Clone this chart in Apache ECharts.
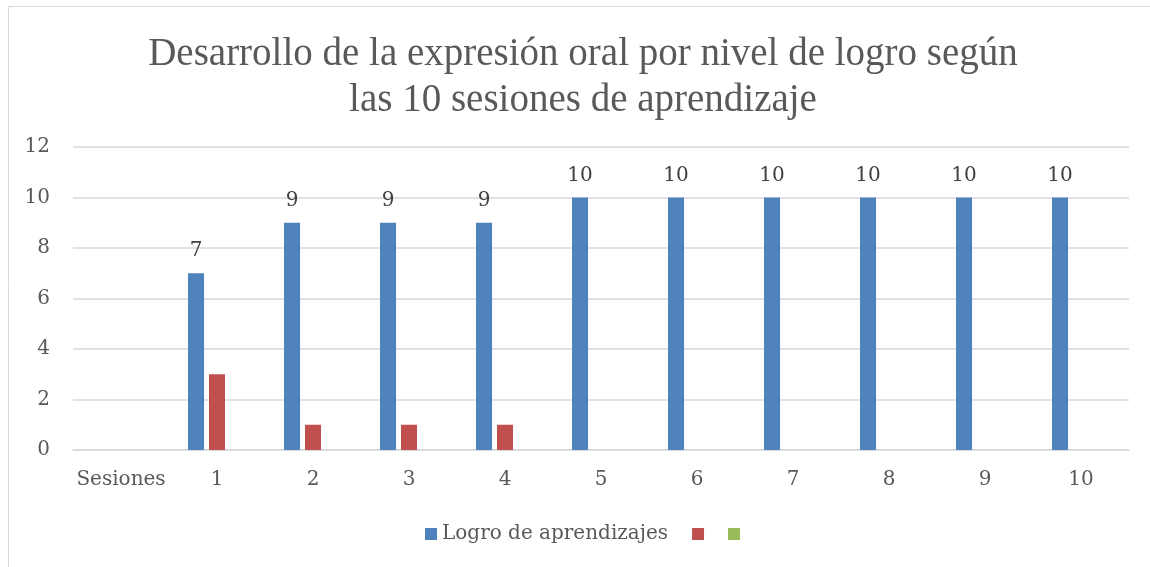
<!DOCTYPE html>
<html><head><meta charset="utf-8">
<script src="https://cdn.jsdelivr.net/npm/echarts@6/dist/echarts.min.js"></script>
<style>html,body{margin:0;padding:0;background:#fff;}#c{width:1150px;height:567px;}</style>
</head><body><div id="c"></div>
<script>
const categories = ['Sesiones','1','2','3','4','5','6','7','8','9','10'];
const logro = [null,7,9,9,9,10,10,10,10,10,10];
const serie2 = [null,3,1,1,1,null,null,null,null,null,null];
const serie3 = [null,null,null,null,null,null,null,null,null,null,null];
const yTicks = {min:0,max:12,interval:2};
const seriesNames = ['Logro de aprendizajes','Serie 2','Serie 3'];
const titleText = 'Desarrollo de la expresión oral por nivel de logro según\nlas 10 sesiones de aprendizaje';

const TFONT = 'Liberation Serif';
const FONT = 'DejaVu Serif';
const chart = echarts.init(document.getElementById('c'));
chart.setOption({
  backgroundColor:'#fff',
  animation:false,
  graphic:[{type:'rect',shape:{x:8.5,y:6.5,width:1160,height:620},style:{fill:'none',stroke:'#d9d9d9',lineWidth:1}}],
  title:{text:titleText,left:578,top:27,textAlign:'center',textStyle:{fontFamily:TFONT,fontSize:39,fontWeight:'normal',color:'#595959',lineHeight:46}},
  legend:{bottom:18,left:420,itemWidth:12,itemHeight:12,itemGap:24,icon:'rect',
    data:seriesNames,
    formatter:function(n){return n===seriesNames[0]?n:'';},
    textStyle:{fontFamily:FONT,fontSize:20,color:'#595959'}},
  grid:{left:73,right:21,top:147,bottom:117,containLabel:false},
  xAxis:{type:'category',data:categories,
    axisLine:{lineStyle:{color:'#d9d9d9',width:1.5}},axisTick:{show:false},
    axisLabel:{interval:0,fontFamily:FONT,fontSize:20,color:'#595959',margin:20}},
  yAxis:{type:'value',min:yTicks.min,max:yTicks.max,interval:yTicks.interval,
    axisLine:{show:false},axisTick:{show:false},
    splitLine:{lineStyle:{color:'#d9d9d9',width:1.5}},
    axisLabel:{fontFamily:FONT,fontSize:20,color:'#595959',margin:23}},
  series:[
    {name:seriesNames[0],type:'bar',data:logro,barWidth:16,barGap:'31%',itemStyle:{color:'#4f81bd'},
      label:{show:true,position:'top',distance:12,fontFamily:FONT,fontSize:20,color:'#404040'}},
    {name:seriesNames[1],type:'bar',data:serie2,barWidth:16,barGap:'31%',itemStyle:{color:'#c0504d'}},
    {name:seriesNames[2],type:'bar',data:serie3,barWidth:16,barGap:'31%',itemStyle:{color:'#9bbb59'}}
  ]
});
</script></body></html>
